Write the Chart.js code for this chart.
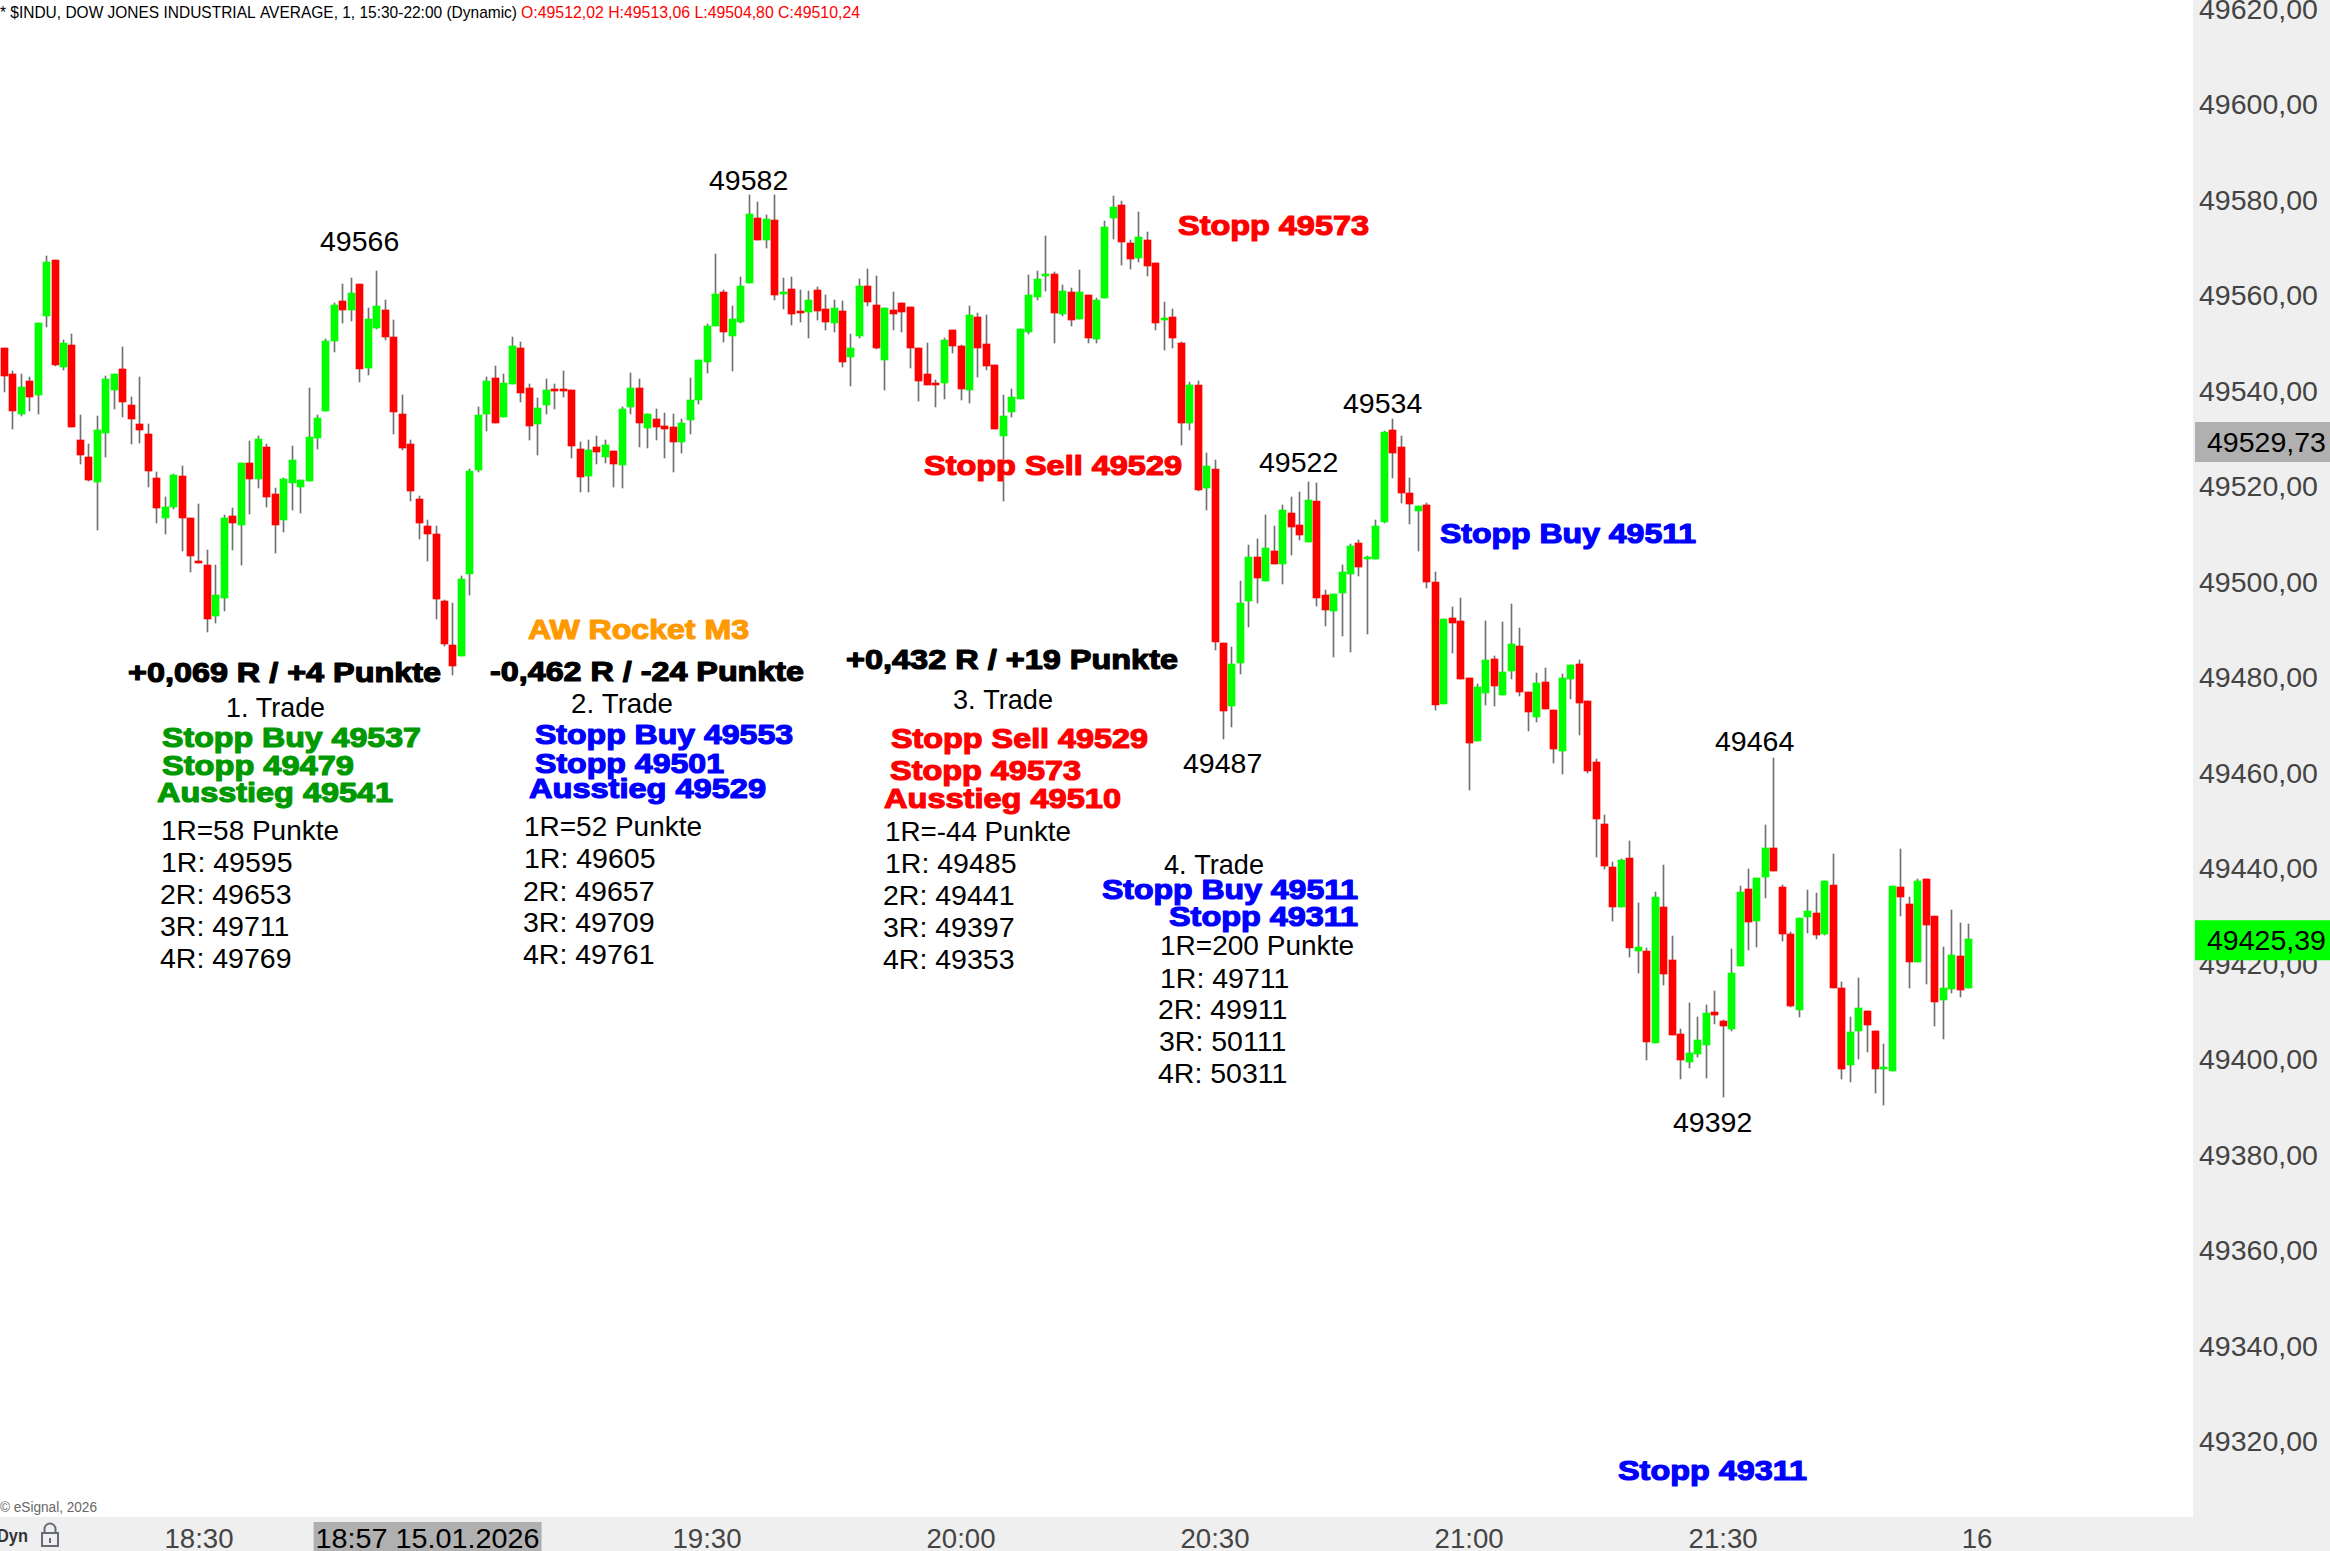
<!DOCTYPE html>
<html>
<head>
<meta charset="utf-8">
<title>$INDU</title>
<style>
  html, body { margin: 0; padding: 0; background: #fff; overflow: hidden; }
  canvas { display: block; }
</style>
<script src="https://cdn.jsdelivr.net/npm/chart.js@4/dist/chart.umd.min.js"></script>
</head>
<body>
<canvas id="myChart" width="2330" height="1551"></canvas>
<script>
// 1 minute candles, first one is 18:07
var opens = [
  49549.4,49544.0,49535.6,49542.5,49539.6,49556.1,49567.8,49545.4,49550.0,49530.1,
  49526.6,49521.3,49531.6,49540.6,49545.0,49537.5,49533.5,49531.4,49522.2,49513.8,
  49516.1,49522.6,49513.8,49504.8,49504.0,49493.3,49497.1,49514.2,49512.3,49525.3,
  49522.0,49528.7,49518.8,49513.4,49521.1,49520.3,49521.6,49530.6,49536.2,49550.9,
  49559.3,49557.4,49562.8,49545.2,49553.6,49557.4,49551.7,49535.6,49529.3,49517.8,
  49512.1,49510.5,49496.4,49487.2,49484.9,49502.1,49523.9,49535.6,49543.1,49535.0,
  49541.9,49549.4,49541.0,49533.5,49537.5,49540.8,49540.8,49540.6,49528.3,49522.6,
  49528.7,49526.6,49527.9,49524.9,49537.1,49541.0,49532.7,49534.6,49533.1,49532.9,
  49529.7,49534.3,49538.5,49546.5,49554.0,49561.1,49551.9,49554.9,49563.0,49576.6,
  49572.0,49576.2,49560.7,49561.8,49557.2,49557.0,49561.6,49557.6,49554.7,49557.2,
  49547.5,49551.9,49562.4,49558.4,49546.9,49557.4,49558.8,49558.0,49549.4,49544.0,
  49542.1,49542.1,49553.1,49549.8,49540.6,49555.9,49550.3,49545.8,49531.0,49536.0,
  49538.7,49552.7,49560.1,49564.4,49564.9,49556.5,49561.1,49555.5,49560.5,49551.3,
  49559.9,49576.6,49579.3,49571.4,49568.2,49572.0,49567.2,49555.3,49555.9,49550.4,
  49533.7,49541.7,49520.0,49524.1,49487.6,49474.4,49483.4,49496.4,49505.6,49500.6,
  49506.9,49504.2,49514.8,49512.3,49508.8,49517.4,49497.7,49494.3,49498.1,49502.1,
  49508.6,49505.2,49505.2,49513.0,49532.2,49528.7,49519.0,49515.3,49516.5,49500.4,
  49474.8,49492.9,49492.2,49480.3,49467.1,49477.1,49484.3,49476.7,49481.8,49487.0,
  49477.4,49472.1,49479.4,49473.6,49465.0,49480.1,49483.2,49475.5,49462.7,49449.7,
  49440.7,49432.3,49442.7,49423.2,49423.2,49403.9,49432.4,49421.3,49405.8,49399.9,
  49401.6,49403.5,49410.4,49408.5,49406.9,49420.0,49436.2,49429.5,49438.7,49444.8,
  49436.6,49426.7,49410.8,49430.3,49431.1,49426.7,49437.0,49415.4,49399.3,49406.4,
  49410.6,49406.4,49398.5,49398.1,49436.6,49433.0,49420.9,49438.3,49430.5,49412.9,
  49415.2,49422.1,49415.4
];
var highs = [
  49549.4,49544.5,49544.0,49543.3,49554.6,49568.7,49567.8,49551.1,49552.3,49535.4,
  49529.3,49535.2,49543.5,49544.0,49549.6,49539.1,49543.3,49533.5,49523.4,49518.2,
  49523.0,49524.7,49513.8,49516.7,49507.1,49504.0,49514.4,49515.9,49525.3,49529.9,
  49531.0,49529.3,49520.1,49522.2,49528.9,49521.8,49541.0,49535.4,49551.3,49558.8,
  49562.8,49564.1,49562.8,49557.8,49565.5,49559.5,49555.3,49539.6,49530.1,49518.4,
  49513.4,49512.1,49496.6,49496.0,49501.7,49524.1,49537.1,49543.3,49545.7,49544.0,
  49551.7,49550.7,49541.9,49539.0,49542.9,49541.9,49544.6,49540.6,49529.7,49530.2,
  49531.0,49530.2,49527.9,49537.1,49544.2,49542.9,49535.6,49536.6,49535.8,49535.6,
  49534.6,49543.1,49546.9,49554.4,49569.1,49561.6,49558.2,49564.3,49581.5,49580.0,
  49577.3,49581.5,49564.1,49564.3,49561.6,49561.4,49562.2,49560.5,49559.5,49559.3,
  49552.4,49563.9,49566.0,49564.5,49557.8,49561.1,49558.8,49558.0,49549.4,49550.5,
  49542.7,49551.5,49553.1,49550.0,49558.2,49556.7,49556.3,49545.8,49539.6,49540.8,
  49553.4,49564.7,49565.5,49572.9,49565.3,49562.6,49562.0,49565.8,49560.5,49559.9,
  49576.0,49581.3,49580.2,49572.0,49577.9,49573.7,49567.2,49559.0,49557.6,49550.7,
  49542.3,49542.5,49527.4,49525.9,49487.6,49486.9,49500.6,49508.1,49509.4,49514.4,
  49512.1,49516.5,49518.2,49519.2,49521.3,49521.1,49498.7,49497.9,49503.9,49508.3,
  49509.2,49505.8,49513.4,49532.0,49534.5,49531.0,49522.2,49516.3,49516.9,49502.5,
  49492.6,49495.2,49497.0,49480.3,49479.0,49492.2,49484.9,49492.0,49495.8,49490.8,
  49477.4,49481.3,49482.4,49473.6,49481.1,49483.0,49484.1,49475.5,49463.3,49451.6,
  49441.7,49442.4,49446.2,49433.2,49423.8,49435.5,49441.2,49426.3,49406.9,49412.3,
  49409.4,49411.9,49414.8,49408.7,49423.6,49436.8,49440.4,49438.5,49449.6,49463.6,
  49437.0,49427.2,49430.1,49436.0,49435.3,49437.8,49443.5,49416.7,49409.4,49417.5,
  49410.6,49406.4,49403.7,49436.8,49444.5,49434.5,49438.3,49438.3,49430.5,49424.0,
  49431.8,49429.1,49428.8
];
var lows = [
  49540.3,49532.5,49535.2,49536.2,49535.6,49553.8,49545.6,49544.8,49532.9,49525.1,
  49521.6,49511.3,49526.6,49536.6,49535.0,49529.3,49529.5,49520.3,49512.8,49510.5,
  49515.7,49506.9,49502.5,49504.4,49489.9,49491.8,49494.3,49507.1,49504.0,49514.6,
  49520.1,49516.1,49506.5,49510.9,49515.5,49514.9,49521.6,49528.3,49536.2,49548.6,
  49554.6,49555.1,49542.3,49543.8,49553.4,49551.1,49531.4,49528.0,49517.4,49509.4,
  49504.8,49492.7,49487.0,49480.9,49484.9,49497.7,49523.4,49532.0,49533.7,49535.0,
  49541.9,49538.1,49530.2,49527.0,49535.6,49536.6,49539.2,49526.4,49519.3,49519.3,
  49525.1,49525.3,49520.3,49520.1,49535.6,49528.7,49528.5,49530.2,49526.4,49523.5,
  49527.4,49531.4,49537.7,49544.2,49554.0,49550.7,49544.6,49554.7,49563.0,49572.0,
  49570.4,49559.5,49557.6,49554.2,49554.9,49551.5,49555.3,49553.2,49552.8,49545.4,
  49541.5,49551.5,49558.2,49549.2,49540.6,49553.2,49552.8,49545.2,49538.3,49541.7,
  49537.1,49538.7,49548.3,49538.5,49537.9,49543.3,49544.8,49532.4,49517.3,49534.9,
  49538.7,49552.4,49559.5,49561.3,49550.4,49556.1,49554.0,49555.5,49550.4,49550.4,
  49559.9,49572.2,49566.8,49565.9,49567.4,49564.4,49553.1,49548.9,49549.4,49529.1,
  49532.2,49519.4,49515.5,49486.1,49467.5,49470.0,49481.1,49491.0,49496.0,49500.6,
  49504.2,49500.0,49506.0,49509.2,49508.8,49495.4,49491.2,49484.7,49489.1,49485.7,
  49501.6,49489.5,49505.2,49512.7,49522.2,49516.9,49512.5,49506.9,49499.1,49473.6,
  49474.8,49485.5,49480.1,49456.8,49467.1,49474.6,49474.4,49476.7,49480.1,49476.5,
  49469.2,49471.1,49473.8,49462.5,49460.2,49475.9,49468.4,49460.4,49442.8,49440.3,
  49429.4,49432.3,49421.9,49418.6,49400.4,49403.9,49416.1,49405.6,49396.4,49398.7,
  49401.0,49396.6,49407.9,49392.6,49406.4,49420.0,49423.4,49424.0,49434.3,49439.9,
  49425.3,49411.5,49409.4,49427.0,49425.7,49426.5,49415.4,49396.4,49395.8,49400.6,
  49402.0,49393.5,49390.9,49398.1,49430.5,49415.4,49420.9,49416.3,49407.5,49404.8,
  49414.4,49413.6,49415.4
];
var closes = [
  49543.5,49536.2,49541.2,49539.1,49554.6,49567.4,49545.8,49550.5,49532.9,49527.0,
  49521.8,49532.2,49542.9,49544.0,49538.1,49534.5,49532.2,49523.7,49515.9,49516.1,
  49522.8,49513.8,49505.9,49504.4,49492.7,49497.7,49513.8,49512.8,49525.3,49522.0,
  49530.4,49518.2,49512.3,49522.0,49526.0,49521.8,49530.8,49534.8,49550.9,49558.4,
  49557.4,49560.9,49545.0,49555.5,49558.2,49551.7,49536.0,49528.5,49519.5,49512.8,
  49510.5,49496.8,49487.4,49482.8,49501.0,49523.7,49535.4,49542.5,49533.7,49542.1,
  49549.8,49540.0,49533.1,49536.9,49540.6,49540.4,49540.4,49528.9,49522.4,49528.1,
  49527.6,49529.1,49525.1,49536.6,49541.0,49533.7,49535.6,49532.9,49532.5,49529.7,
  49533.7,49538.5,49546.9,49554.0,49560.7,49552.8,49555.5,49562.4,49577.5,49572.0,
  49576.4,49560.5,49561.1,49556.5,49556.7,49559.5,49557.2,49554.9,49557.8,49546.5,
  49549.4,49562.4,49559.1,49549.4,49557.8,49556.5,49557.0,49549.4,49542.5,49541.7,
  49541.7,49551.1,49549.8,49540.8,49556.3,49549.4,49545.6,49532.4,49535.2,49539.1,
  49553.4,49560.5,49563.8,49564.9,49556.7,49561.3,49555.3,49561.1,49551.5,49559.5,
  49574.8,49578.9,49571.6,49568.0,49572.7,49566.6,49554.6,49555.7,49551.5,49533.7,
  49541.7,49519.7,49524.7,49487.8,49473.5,49483.2,49496.0,49505.6,49501.2,49507.5,
  49504.2,49515.5,49511.9,49510.2,49517.6,49497.0,49494.5,49497.9,49502.5,49507.9,
  49503.5,49505.6,49512.1,49531.8,49527.4,49519.0,49516.7,49516.3,49500.4,49474.6,
  49492.6,49491.8,49480.1,49466.7,49478.4,49484.1,49478.6,49481.5,49487.4,49477.4,
  49473.2,49479.2,49473.8,49465.4,49480.3,49483.0,49475.1,49460.8,49450.7,49440.9,
  49432.3,49442.2,49423.8,49424.0,49404.1,49434.5,49418.4,49405.6,49400.4,49401.8,
  49404.6,49410.2,49409.8,49407.5,49418.6,49435.5,49429.3,49438.5,49444.8,49439.9,
  49426.7,49411.7,49430.1,49431.6,49426.5,49437.8,49415.4,49398.5,49406.2,49411.3,
  49407.7,49398.5,49398.9,49436.8,49434.5,49420.9,49437.8,49428.6,49412.5,49415.4,
  49422.4,49415.0,49425.7
];

var priceTicks = [49620,49600,49580,49560,49540,49520,49500,49480,49460,49440,49420,49400,49380,49360,49340,49320];
var timeTicks = ['18:30','19:00','19:30','20:00','20:30','21:00','21:30','22:00'];
var timeTickTexts = ['18:30','19:00','19:30','20:00','20:30','21:00','21:30','16'];
var lastPrice = 49425.39;
var cursorPrice = 49529.73;
var cursorTime = '18:57';
var cursorText = '18:57 15.01.2026';

// the time axis runs on past the last bar, same as the empty space in the platform
var times = [];
for (var m = 18 * 60 + 7; times.length < 259; m++) {
    times.push(Math.floor(m / 60) + ':' + ('0' + (m % 60)).slice(-2));
}

var RED = '#ff0000', GREEN = '#00ff00', BLUE = '#0000ff', DKGREEN = '#009900', ORANGE = '#ff9900', BLACK = '#000000';

// written on the chart by hand: text, x, baseline, width, colour
var boldNotes = [
    ['Stopp 49573', 1178, 235, 191, RED],
    ['Stopp Sell 49529', 924, 475, 258, RED],
    ['Stopp Buy 49511', 1440, 543, 256, BLUE],
    ['AW Rocket M3', 528, 639, 221, ORANGE],
    ['+0,069 R / +4 Punkte', 128, 682, 313, BLACK],
    ['-0,462 R / -24 Punkte', 490, 681, 314, BLACK],
    ['+0,432 R / +19 Punkte', 846, 669, 332, BLACK],
    ['Stopp Buy 49537', 162, 747, 259, DKGREEN],
    ['Stopp 49479', 162, 775, 192, DKGREEN],
    ['Ausstieg 49541', 157, 802, 236, DKGREEN],
    ['Stopp Buy 49553', 535, 744, 258, BLUE],
    ['Stopp 49501', 535, 773, 189, BLUE],
    ['Ausstieg 49529', 529, 798, 237, BLUE],
    ['Stopp Sell 49529', 891, 748, 257, RED],
    ['Stopp 49573', 890, 780, 191, RED],
    ['Ausstieg 49510', 884, 808, 237, RED],
    ['Stopp Buy 49511', 1102, 899, 256, BLUE],
    ['Stopp 49311', 1169, 926, 189, BLUE],
    ['Stopp 49311', 1618, 1480, 189, BLUE]
];
var plainNotes = [
    ['49566', 320, 251], ['49582', 709, 190], ['49522', 1259, 472], ['49534', 1343, 413],
    ['49487', 1183, 773], ['49464', 1715, 751], ['49392', 1673, 1132],
    ['1. Trade', 226, 717, 99], ['1R=58 Punkte', 161, 840, 178], ['1R: 49595', 161, 872],
    ['2R: 49653', 160, 904], ['3R: 49711', 160, 936], ['4R: 49769', 160, 968],
    ['2. Trade', 571, 713, 102], ['1R=52 Punkte', 524, 836, 178], ['1R: 49605', 524, 868],
    ['2R: 49657', 523, 901], ['3R: 49709', 523, 932], ['4R: 49761', 523, 964],
    ['3. Trade', 953, 709, 100], ['1R=-44 Punkte', 885, 841, 186], ['1R: 49485', 885, 873],
    ['2R: 49441', 883, 905], ['3R: 49397', 883, 937], ['4R: 49353', 883, 969],
    ['4. Trade', 1164, 874, 100], ['1R=200 Punkte', 1160, 955, 194], ['1R: 49711', 1160, 988],
    ['2R: 49911', 1158, 1019], ['3R: 50111', 1159, 1051], ['4R: 50311', 1158, 1083]
];

var bodies = [], wicks = [], bodyColors = [];
for (var i = 0; i < opens.length; i++) {
    bodies.push([opens[i], closes[i]]);
    wicks.push([lows[i], highs[i]]);
    bodyColors.push(closes[i] > opens[i] ? GREEN : RED);
}

function putText(ctx, text, x, y, width, color, fat) {
    var natural = ctx.measureText(text).width;
    ctx.save();
    ctx.translate(x, y);
    ctx.scale(width ? width / natural : 1, 1);
    ctx.fillStyle = color;
    ctx.strokeStyle = color;
    ctx.lineWidth = 1.2;
    ctx.lineJoin = 'round';
    ctx.textAlign = 'left';
    ctx.textBaseline = 'alphabetic';
    ctx.fillText(text, 0, 0);
    if (fat) ctx.strokeText(text, 0, 0);
    ctx.restore();
}

function drawLock(ctx, x, y) {
    ctx.save();
    ctx.strokeStyle = '#666b78';
    ctx.lineWidth = 2;
    ctx.strokeRect(x + 1, y + 10, 16, 13);
    ctx.beginPath();
    ctx.moveTo(x + 3.5, y + 10);
    ctx.lineTo(x + 3.5, y + 6);
    ctx.arc(x + 9, y + 6, 5.5, Math.PI, 0);
    ctx.lineTo(x + 14.5, y + 10);
    ctx.stroke();
    ctx.fillStyle = '#666b78';
    ctx.fillRect(x + 8, y + 15, 2, 5);
    ctx.restore();
}

// keeps the bars on whole pixels, otherwise they come out blurred
var snapBars = {
    id: 'snapBars',
    afterDatasetsUpdate: function (chart) {
        chart.getDatasetMeta(0).data.concat(chart.getDatasetMeta(1).data).forEach(function (bar) {
            if (bar.skip) return;
            bar.x = Math.floor(bar.x) + 0.5;
            bar.y = Math.round(bar.y);
            bar.base = Math.round(bar.base);
        });
    }
};

var panels = {
    id: 'panels',
    beforeDraw: function (chart) {
        var ctx = chart.ctx, area = chart.chartArea;
        ctx.save();
        ctx.fillStyle = '#ffffff';
        ctx.fillRect(0, 0, chart.width, chart.height);
        ctx.fillStyle = '#efefef';
        ctx.fillRect(area.right, 0, chart.width - area.right, chart.height);
        ctx.fillRect(0, area.bottom, chart.width, chart.height - area.bottom);
        ctx.restore();
    },
    afterDraw: function (chart) {
        var ctx = chart.ctx, yAxis = chart.scales.y, xAxis = chart.scales.x, area = chart.chartArea;
        var axisFont = '28.5px "Liberation Sans"';

        ctx.font = axisFont;
        var y = yAxis.getPixelForValue(cursorPrice);
        ctx.fillStyle = '#b0b0b0';
        ctx.fillRect(area.right + 2, y - 20, chart.width - area.right - 2, 40);
        putText(ctx, cursorPrice.toFixed(2).replace('.', ','), 2207, y + 10, 0, BLACK);

        y = yAxis.getPixelForValue(lastPrice);
        ctx.fillStyle = GREEN;
        ctx.fillRect(area.right + 2, y - 20, chart.width - area.right - 2, 40);
        putText(ctx, lastPrice.toFixed(2).replace('.', ','), 2207, y + 10, 0, BLACK);

        var x = xAxis.getPixelForValue(times.indexOf(cursorTime));
        ctx.fillStyle = '#b0b0b0';
        ctx.fillRect(x - 114, area.bottom + 5, 228, chart.height - area.bottom - 5);
        putText(ctx, cursorText, x - 112, 1548, 224, BLACK);

        ctx.font = 'bold 28px "Liberation Sans"';
        boldNotes.forEach(function (n) { putText(ctx, n[0], n[1], n[2], n[3], n[4], true); });
        ctx.font = axisFont;
        plainNotes.forEach(function (n) { putText(ctx, n[0], n[1], n[2], n[3] || 0, BLACK); });

        ctx.font = '17px "Liberation Sans"';
        putText(ctx, '* $INDU, DOW JONES INDUSTRIAL AVERAGE, 1, 15:30-22:00 (Dynamic)', 0, 18, 517, BLACK);
        putText(ctx, 'O:49512,02 H:49513,06 L:49504,80 C:49510,24', 521, 18, 339, RED);
        ctx.font = '14px "Liberation Sans"';
        putText(ctx, '\u00a9 eSignal, 2026', 0, 1512, 97, '#666666');
        ctx.font = 'bold 19px "Liberation Sans"';
        putText(ctx, 'Dyn', -3, 1542, 31, '#333333');
        drawLock(ctx, 41, 1523);
    }
};

// grab the context first, no alpha gives the same text rendering as the platform
var ctx = document.getElementById('myChart').getContext('2d', { alpha: false });

var myChart = new Chart(ctx, {
    type: 'bar',
    plugins: [snapBars, panels],
    data: {
        labels: times,
        datasets: [
            { label: 'Body', data: bodies, backgroundColor: bodyColors, barThickness: 7, grouped: false, order: 1 },
            { label: 'Wick', data: wicks, backgroundColor: '#707070', barThickness: 1, grouped: false, order: 2 }
        ]
    },
    options: {
        responsive: false,
        animation: false,
        layout: { padding: 0 },
        plugins: { legend: { display: false }, title: { display: false }, tooltip: { enabled: false } },
        scales: {
            x: {
                offset: true,
                grid: { display: false, drawTicks: false },
                border: { display: false },
                afterFit: function (axis) {
                    axis.height = 34;
                    axis.paddingLeft = 0;
                    axis.paddingRight = 0;
                },
                ticks: {
                    autoSkip: false,
                    maxRotation: 0,
                    minRotation: 0,
                    padding: 7,
                    color: '#444444',
                    font: { family: '"Liberation Sans"', size: 27.6 },
                    callback: function (value) {
                        var k = timeTicks.indexOf(times[value]);
                        return k < 0 ? '' : timeTickTexts[k];
                    }
                }
            },
            y: {
                position: 'right',
                min: 49304.6,
                max: 49622.3,
                grid: { display: false, drawTicks: false },
                border: { display: false },
                afterFit: function (axis) {
                    axis.width = 137;
                    axis.paddingTop = 0;
                    axis.paddingBottom = 0;
                },
                afterBuildTicks: function (axis) {
                    axis.ticks = priceTicks.map(function (v) { return { value: v }; });
                },
                ticks: {
                    padding: 6,
                    autoSkip: false,
                    color: '#444444',
                    font: { family: '"Liberation Sans"', size: 28.5 },
                    callback: function (value) { return value.toFixed(2).replace('.', ','); }
                }
            }
        }
    }
});
</script>
</body>
</html>
